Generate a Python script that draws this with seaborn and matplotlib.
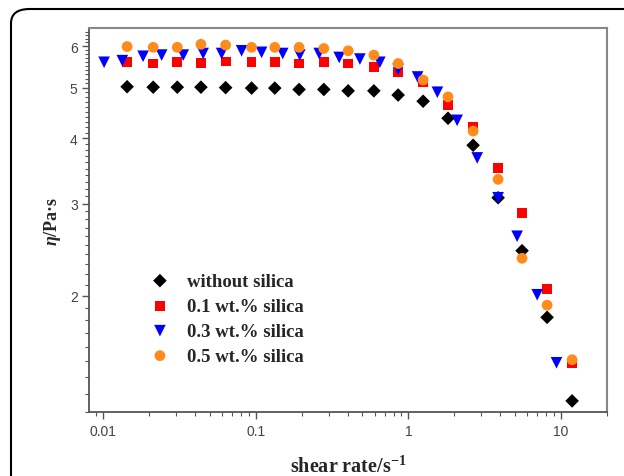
import numpy as np
import pandas as pd
import matplotlib
matplotlib.use('Agg')
import matplotlib.pyplot as plt
import seaborn as sns
from matplotlib.patches import FancyBboxPatch
from matplotlib.ticker import FixedLocator, NullFormatter

# shear rate (1/s) shared by the black, red and orange series
shear_rate = [0.0143, 0.0212, 0.0305, 0.0436, 0.0633, 0.0937, 0.133, 0.192, 0.279,
              0.403, 0.594, 0.857, 1.25, 1.82, 2.66, 3.88, 5.57, 8.13, 11.86]
# the 0.3 wt.% series was measured on a denser grid
shear_rate_03 = [0.0101, 0.0133, 0.0182, 0.0241, 0.0334, 0.0451, 0.0596, 0.0806, 0.109,
                 0.150, 0.194, 0.260, 0.352, 0.481, 0.650, 0.857, 1.15, 1.55, 2.09,
                 2.83, 3.88, 5.17, 7.0, 9.37]

visc_none = [5.02, 5.01, 5.01, 5.01, 5.00, 4.99, 4.99, 4.96, 4.96, 4.93, 4.93, 4.84,
             4.71, 4.37, 3.88, 3.08, 2.44, 1.82, 1.26]
visc_01 = [5.59, 5.56, 5.60, 5.58, 5.61, 5.60, 5.59, 5.56, 5.60, 5.56, 5.48, 5.35,
           5.13, 4.63, 4.21, 3.51, 2.88, 2.06, 1.49]
visc_03 = [5.59, 5.63, 5.74, 5.77, 5.77, 5.81, 5.81, 5.88, 5.84, 5.81, 5.77, 5.81,
           5.71, 5.67, 5.59, 5.42, 5.24, 4.90, 4.33, 3.67, 3.08, 2.60, 2.01, 1.49]
visc_05 = [5.99, 5.97, 5.97, 6.05, 6.03, 5.97, 5.97, 5.97, 5.94, 5.88, 5.77, 5.56,
           5.17, 4.80, 4.13, 3.34, 2.36, 1.92, 1.51]

labels = ['without silica', '0.1 wt.% silica', '0.3 wt.% silica', '0.5 wt.% silica']
colors = ['#000000', '#ff0000', '#0000ff', '#ff8c1a']
markers = ['D', 's', 'v', 'o']
sizes = [48, 50, 70, 60]

x_ticks = [0.01, 0.1, 1, 10]
x_tick_labels = ['0.01', '0.1', '1', '10']
y_ticks = [2, 3, 4, 5, 6]
y_tick_labels = ['2', '3', '4', '5', '6']

sns.set_style('ticks')
plt.rcParams['font.family'] = ['Liberation Sans', 'DejaVu Sans']
plt.rcParams['mathtext.fontset'] = 'custom'
plt.rcParams['mathtext.rm'] = 'Liberation Serif'
plt.rcParams['mathtext.bf'] = 'Liberation Serif:bold'
plt.rcParams['mathtext.it'] = 'Liberation Serif:italic'
plt.rcParams['mathtext.bfit'] = 'Liberation Serif:bold:italic'

fig = plt.figure(figsize=(6.24, 4.77), dpi=100)
ax = fig.add_axes([0.1434, 0.1342, 0.8294, 0.805])

series = [(shear_rate, visc_none), (shear_rate, visc_01),
          (shear_rate_03, visc_03), (shear_rate, visc_05)]
for (xs, ys), lab, c, m, s in zip(series, labels, colors, markers, sizes):
    df = pd.DataFrame({'rate': xs, 'eta': ys})
    sns.scatterplot(data=df, x='rate', y='eta', ax=ax, color=c, marker=m, s=s,
                    edgecolor='none', linewidth=0, label=lab)

ax.set_xscale('log')
ax.set_yscale('log')
ax.set_xlim(0.0081, 20.1)
ax.set_ylim(1.2, 6.5)

ax.xaxis.set_major_locator(FixedLocator(x_ticks))
ax.set_xticklabels(x_tick_labels)
x_minor = [m * d for d in [0.001, 0.01, 0.1, 1, 10] for m in range(2, 10)]
ax.xaxis.set_minor_locator(FixedLocator(x_minor))
ax.xaxis.set_minor_formatter(NullFormatter())

ax.yaxis.set_major_locator(FixedLocator(y_ticks))
ax.set_yticklabels(y_tick_labels)
ax.yaxis.set_minor_locator(FixedLocator(np.arange(1.2, 6.5, 0.1)))
ax.yaxis.set_minor_formatter(NullFormatter())

ax.tick_params(which='major', direction='out', length=5, width=1.0, color='#555555',
               labelsize=10, labelcolor='#444444', top=False, right=False)
ax.tick_params(which='minor', direction='out', length=3, width=0.8, color='#555555',
               top=False, right=False)

for side in ['left', 'bottom']:
    ax.spines[side].set_color('#555555')
    ax.spines[side].set_linewidth(1.3)
for side in ['top', 'right']:
    ax.spines[side].set_color('#888888')
    ax.spines[side].set_linewidth(1.5)

ax.set_xlabel('shear rate/s$^{\\mathbf{-1}}$', fontsize=14.5, fontweight='bold',
              family='Liberation Serif', labelpad=13)
ax.set_ylabel('$\\mathbfit{\\eta}$/Pa·s', fontsize=13, fontweight='bold',
              family='Liberation Serif', labelpad=5)

ax.legend(loc='upper left', bbox_to_anchor=(0.093, 0.380), frameon=False,
          prop={'family': 'Liberation Serif', 'weight': 'bold', 'size': 13.5},
          handlelength=1.7, handletextpad=0.61, labelspacing=0.42,
          borderpad=0.34, borderaxespad=0)

# rounded page frame, cut off at right and bottom
frame = FancyBboxPatch((11 / 624, -0.2), 1.2, 1.2 - 10 / 477,
                       boxstyle='round,pad=0,rounding_size=0.03',
                       transform=fig.transFigure, fill=False,
                       edgecolor='black', linewidth=1.5)
fig.patches.append(frame)

fig.savefig('out.png', dpi=100)
